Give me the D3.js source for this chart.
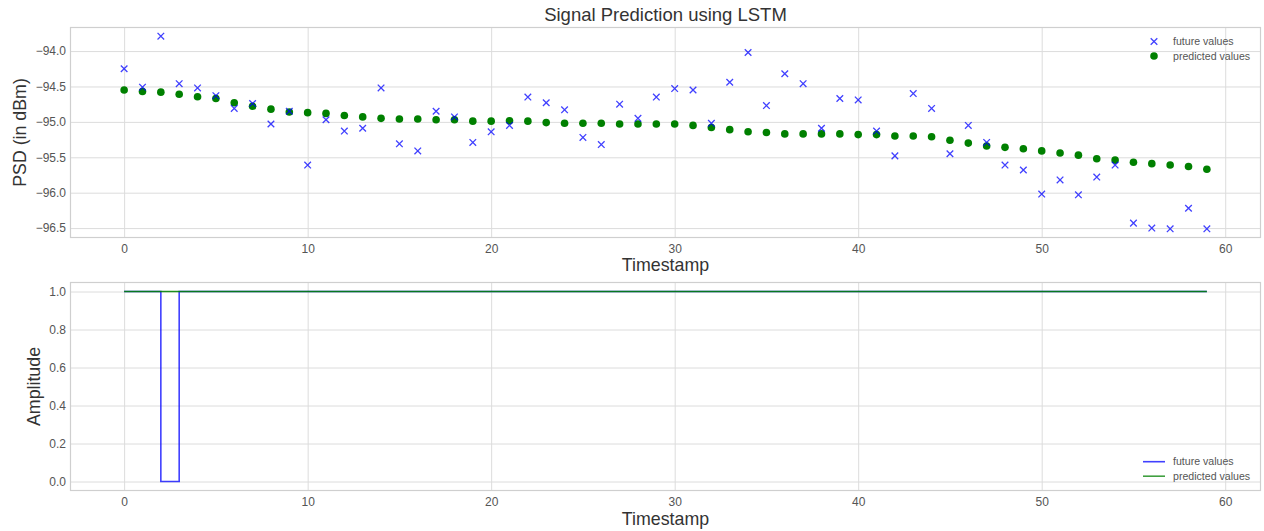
<!DOCTYPE html>
<html>
<head>
<meta charset="utf-8">
<script src="https://cdn.jsdelivr.net/npm/d3@7"></script>
<style>
  body { margin: 0; background: #fff; }
  svg { font-family: "Liberation Sans", Arial, sans-serif; }
  .tick text { fill: #555; font-size: 12px; }
  .grid line { stroke: #dcdcdc; stroke-width: 1; }
</style>
</head>
<body>
<svg id="chart"></svg>
<script>
var width = 1264,
    height = 531;

var timestamps = d3.range(0, 60);

var futureValues = [
  -94.25, -94.51, -93.79, -94.46, -94.52, -94.63, -94.81, -94.74, -95.03, -94.85,
  -95.61, -94.97, -95.13, -95.09, -94.52, -95.31, -95.41, -94.85, -94.93, -95.29,
  -95.14, -95.05, -94.65, -94.73, -94.83, -95.22, -95.32, -94.75, -94.95, -94.65,
  -94.53, -94.55, -95.02, -94.44, -94.02, -94.77, -94.32, -94.46, -95.09, -94.67,
  -94.69, -95.13, -95.48, -94.60, -94.81, -95.45, -95.05, -95.29, -95.61, -95.68,
  -96.02, -95.82, -96.03, -95.78, -95.61, -96.43, -96.50, -96.51, -96.22, -96.51
];

var predictedValues = [
  -94.55, -94.57, -94.58, -94.61, -94.645, -94.67, -94.73, -94.78, -94.82, -94.86,
  -94.87, -94.88, -94.91, -94.93, -94.95, -94.96, -94.96, -94.97, -94.97, -94.99,
  -94.99, -94.985, -94.99, -95.01, -95.02, -95.02, -95.02, -95.03, -95.03, -95.03,
  -95.03, -95.05, -95.08, -95.11, -95.14, -95.15, -95.17, -95.17, -95.17, -95.17,
  -95.18, -95.18, -95.20, -95.20, -95.21, -95.26, -95.30, -95.34, -95.36, -95.38,
  -95.41, -95.44, -95.47, -95.52, -95.54, -95.57, -95.59, -95.61, -95.63, -95.67
];

var futureAmplitude = [
  1, 1, 0, 1, 1, 1, 1, 1, 1, 1, 1, 1, 1, 1, 1, 1, 1, 1, 1, 1,
  1, 1, 1, 1, 1, 1, 1, 1, 1, 1, 1, 1, 1, 1, 1, 1, 1, 1, 1, 1,
  1, 1, 1, 1, 1, 1, 1, 1, 1, 1, 1, 1, 1, 1, 1, 1, 1, 1, 1, 1
];

var predictedAmplitude = [
  1, 1, 1, 1, 1, 1, 1, 1, 1, 1, 1, 1, 1, 1, 1, 1, 1, 1, 1, 1,
  1, 1, 1, 1, 1, 1, 1, 1, 1, 1, 1, 1, 1, 1, 1, 1, 1, 1, 1, 1,
  1, 1, 1, 1, 1, 1, 1, 1, 1, 1, 1, 1, 1, 1, 1, 1, 1, 1, 1, 1
];

var xTicks = [0, 10, 20, 30, 40, 50, 60];
var psdTicks = [-94.0, -94.5, -95.0, -95.5, -96.0, -96.5];
var ampTicks = [0.0, 0.2, 0.4, 0.6, 0.8, 1.0];
var legendLabels = ['future values', 'predicted values'];

var PLOT = { LEFT: 70, RIGHT: 1261 };
var TOP_AX = { TOP: 27, BOTTOM: 238 };
var BOT_AX = { TOP: 282, BOTTOM: 491 };

var fmtNum = function (d) {
  return d3.format('.1f')(d).replace('-', '\u2212');
};

var svg = d3.select('#chart')
  .attr('width', width)
  .attr('height', height);

var xScale = d3.scaleLinear()
  .domain([-2.95, 61.95])
  .range([PLOT.LEFT, PLOT.RIGHT]);

var yPsd = d3.scaleLinear()
  .domain([-96.64, -93.66])
  .range([TOP_AX.BOTTOM, TOP_AX.TOP]);

var yAmp = d3.scaleLinear()
  .domain([-0.05, 1.05])
  .range([BOT_AX.BOTTOM, BOT_AX.TOP]);

// draws grid, frame and tick labels for one panel
var drawAxes = function (yScale, yTicks, box) {
  var g = svg.append('g');
  var innerH = box.BOTTOM - box.TOP;
  var innerW = PLOT.RIGHT - PLOT.LEFT;

  g.append('g')
    .attr('class', 'grid')
    .attr('transform', 'translate(0,' + box.BOTTOM + ')')
    .call(d3.axisBottom(xScale).tickValues(xTicks).tickSize(-innerH).tickFormat(''))
    .call(function (s) { s.select('.domain').remove(); });

  g.append('g')
    .attr('class', 'grid')
    .attr('transform', 'translate(' + PLOT.LEFT + ',0)')
    .call(d3.axisLeft(yScale).tickValues(yTicks).tickSize(-innerW).tickFormat(''))
    .call(function (s) { s.select('.domain').remove(); });

  g.append('g')
    .attr('transform', 'translate(0,' + box.BOTTOM + ')')
    .call(d3.axisBottom(xScale).tickValues(xTicks).tickSize(0).tickPadding(6).tickFormat(d3.format('d')))
    .call(function (s) { s.select('.domain').remove(); });

  g.append('g')
    .attr('transform', 'translate(' + PLOT.LEFT + ',0)')
    .call(d3.axisLeft(yScale).tickValues(yTicks).tickSize(0).tickPadding(4).tickFormat(fmtNum))
    .call(function (s) { s.select('.domain').remove(); });

  g.append('rect')
    .attr('x', PLOT.LEFT + 0.5)
    .attr('y', box.TOP + 0.5)
    .attr('width', innerW - 1)
    .attr('height', innerH - 1)
    .attr('fill', 'none')
    .attr('stroke', '#cfcfcf')
    .attr('stroke-width', 1.2);
};

drawAxes(yPsd, psdTicks, TOP_AX);
drawAxes(yAmp, ampTicks, BOT_AX);

// ---- top panel marks ----
var topPanel = svg.append('g');

topPanel.selectAll('circle.pred')
  .data(predictedValues)
  .enter()
  .append('circle')
  .attr('class', 'pred')
  .attr('cx', function (d, i) { return xScale(timestamps[i]); })
  .attr('cy', function (d) { return yPsd(d); })
  .attr('r', 3.8)
  .attr('fill', '#008000');

var crossPath = function (cx, cy, s) {
  return 'M' + (cx - s) + ',' + (cy - s) + 'L' + (cx + s) + ',' + (cy + s) +
         'M' + (cx - s) + ',' + (cy + s) + 'L' + (cx + s) + ',' + (cy - s);
};

topPanel.selectAll('path.fut')
  .data(futureValues)
  .enter()
  .append('path')
  .attr('class', 'fut')
  .attr('d', function (d, i) { return crossPath(xScale(timestamps[i]), yPsd(d), 3.3); })
  .attr('stroke', '#0000ff')
  .attr('stroke-opacity', 0.75)
  .attr('stroke-width', 1.3)
  .attr('fill', 'none');

svg.append('text')
  .attr('x', (PLOT.LEFT + PLOT.RIGHT) / 2)
  .attr('y', 21)
  .attr('text-anchor', 'middle')
  .attr('fill', '#333')
  .style('font-size', '18.5px')
  .text('Signal Prediction using LSTM');

svg.append('text')
  .attr('x', (PLOT.LEFT + PLOT.RIGHT) / 2)
  .attr('y', 271)
  .attr('text-anchor', 'middle')
  .attr('fill', '#333')
  .style('font-size', '17.8px')
  .text('Timestamp');

svg.append('text')
  .attr('transform', 'translate(26,' + ((TOP_AX.TOP + TOP_AX.BOTTOM) / 2) + ') rotate(-90)')
  .attr('text-anchor', 'middle')
  .attr('fill', '#333')
  .style('font-size', '17.8px')
  .text('PSD (in dBm)');

// top legend
var legTop = svg.append('g').attr('transform', 'translate(1154,0)');
legTop.append('path')
  .attr('d', crossPath(0, 41.5, 3.3))
  .attr('stroke', '#0000ff')
  .attr('stroke-opacity', 0.75)
  .attr('stroke-width', 1.3);
legTop.append('circle')
  .attr('cx', 0)
  .attr('cy', 56)
  .attr('r', 3.8)
  .attr('fill', '#008000');
legTop.selectAll('text')
  .data(legendLabels)
  .enter()
  .append('text')
  .attr('x', 19)
  .attr('y', function (d, i) { return 41.5 + i * 14.5 + 3.7; })
  .attr('fill', '#555')
  .style('font-size', '10.6px')
  .text(function (d) { return d; });

// ---- bottom panel lines ----
var ampLine = d3.line()
  .x(function (d, i) { return xScale(timestamps[i]); })
  .y(function (d) { return yAmp(d); })
  .curve(d3.curveStepAfter);

svg.append('path')
  .datum(futureAmplitude)
  .attr('d', ampLine)
  .attr('fill', 'none')
  .attr('stroke', '#0000ff')
  .attr('stroke-opacity', 0.75)
  .attr('stroke-width', 1.6);

svg.append('path')
  .datum(predictedAmplitude)
  .attr('d', ampLine)
  .attr('fill', 'none')
  .attr('stroke', '#008000')
  .attr('stroke-opacity', 0.88)
  .attr('stroke-width', 1.7);

svg.append('text')
  .attr('x', (PLOT.LEFT + PLOT.RIGHT) / 2)
  .attr('y', 525)
  .attr('text-anchor', 'middle')
  .attr('fill', '#333')
  .style('font-size', '17.8px')
  .text('Timestamp');

svg.append('text')
  .attr('transform', 'translate(40,' + ((BOT_AX.TOP + BOT_AX.BOTTOM) / 2) + ') rotate(-90)')
  .attr('text-anchor', 'middle')
  .attr('fill', '#333')
  .style('font-size', '17.8px')
  .text('Amplitude');

// bottom legend
var legColors = ['#0000ff', '#008000'];
var legBot = svg.append('g').attr('transform', 'translate(1143,0)');
legBot.selectAll('line')
  .data(legColors)
  .enter()
  .append('line')
  .attr('x1', 0)
  .attr('x2', 22)
  .attr('y1', function (d, i) { return 461.7 + i * 14.5; })
  .attr('y2', function (d, i) { return 461.7 + i * 14.5; })
  .attr('stroke', function (d) { return d; })
  .attr('stroke-opacity', 0.75)
  .attr('stroke-width', 1.6);
legBot.selectAll('text')
  .data(legendLabels)
  .enter()
  .append('text')
  .attr('x', 30)
  .attr('y', function (d, i) { return 461.7 + i * 14.5 + 3.7; })
  .attr('fill', '#555')
  .style('font-size', '10.6px')
  .text(function (d) { return d; });
</script>
</body>
</html>
